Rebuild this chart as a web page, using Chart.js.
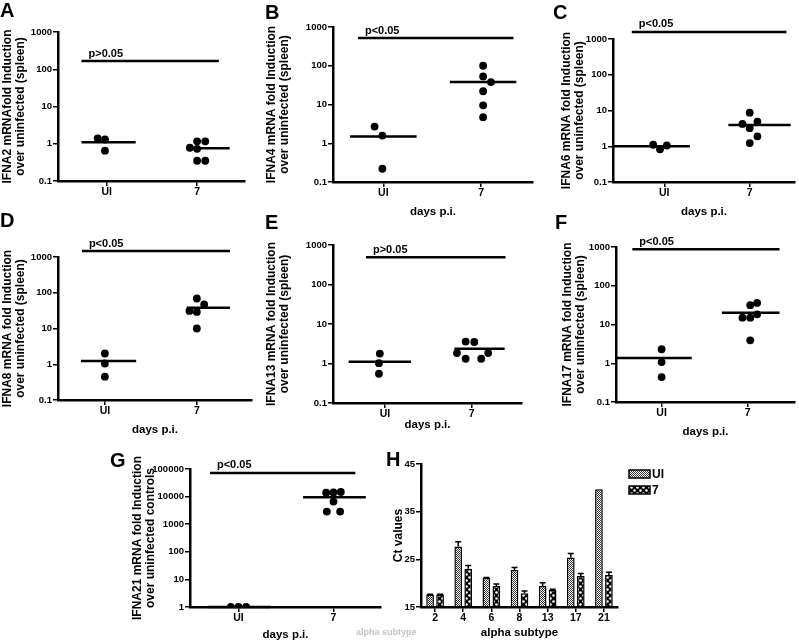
<!DOCTYPE html>
<html>
<head>
<meta charset="utf-8">
<script src="https://cdn.jsdelivr.net/npm/chart.js@4.4.1/dist/chart.umd.min.js"></script>
<style>
  body { margin: 0; background: #fff; }
  #wrap { position: relative; width: 799px; height: 642px; overflow: hidden; background: #fff; }
  canvas { position: absolute; left: 0; top: 0; }
  .lbl { position: absolute; font: bold 20px "Liberation Sans", Arial, sans-serif; line-height: 20px; color: #000; }
  .ghost { position: absolute; font: bold 9px "Liberation Sans", Arial, sans-serif; color: #c4c4c4; }
</style>
</head>
<body>
<div id="wrap">
  <canvas id="pA" width="799" height="642"></canvas>
  <canvas id="pB" width="799" height="642"></canvas>
  <canvas id="pC" width="799" height="642"></canvas>
  <canvas id="pD" width="799" height="642"></canvas>
  <canvas id="pE" width="799" height="642"></canvas>
  <canvas id="pF" width="799" height="642"></canvas>
  <canvas id="pG" width="799" height="642"></canvas>
  <canvas id="pH" width="799" height="642"></canvas>
  <div class="lbl" style="left:0px;top:0px">A</div>
  <div class="lbl" style="left:265px;top:2px">B</div>
  <div class="lbl" style="left:553px;top:2px">C</div>
  <div class="lbl" style="left:0px;top:210px">D</div>
  <div class="lbl" style="left:265px;top:212px">E</div>
  <div class="lbl" style="left:555px;top:212px">F</div>
  <div class="lbl" style="left:110px;top:450px">G</div>
  <div class="lbl" style="left:386px;top:449px">H</div>
  <div class="ghost" style="left:356px;top:627px">alpha subtype</div>
</div>
<script>
const W = 799, H = 642
const narrow = '"Liberation Sans Narrow", "Liberation Sans", Arial, sans-serif'
Chart.defaults.font.family = narrow
Chart.defaults.font.weight = 'bold'
Chart.defaults.color = '#000'

const dotCats = ['UI', '7']
const spleenTicks = [0.1, 1, 10, 100, 1000]
const controlTicks = [1, 10, 100, 1000, 10000, 100000]

// A - IFNA2
const aUI = [1.4, 1.3, 0.65]
const aUIJit = [-0.1, -0.02, -0.02]
const a7 = [1.16, 1.16, 0.78, 0.73, 0.35, 0.35]
const a7Jit = [0, 0.09, -0.08, 0, 0, 0.09]
const aMeans = [1.1, 0.76]

// B - IFNA4
const bUI = [2.7, 1.58, 0.22]
const bUIJit = [-0.09, -0.01, -0.01]
const b7 = [100, 53, 38, 22, 9.5, 4.7]
const b7Jit = [0.02, 0.02, 0.1, 0.02, 0.02, 0.02]
const bMeans = [1.5, 38]

// C - IFNA6
const cUI = [1.1, 0.82, 1.05]
const cUIJit = [-0.13, -0.05, 0.03]
const c7 = [8.7, 4.2, 4.9, 3.2, 1.9, 1.23]
const c7Jit = [0, -0.085, 0.09, 0, 0.09, 0]
const cMeans = [1.0, 3.9]

// D - IFNA8
const dUI = [2.0, 1.05, 0.45]
const dUIJit = [0, 0, 0]
const d7 = [69, 47, 31, 29, 10]
const d7Jit = [0, 0.08, -0.08, 0, 0]
const dMeans = [1.24, 38]

// E - IFNA13
const eUI = [1.78, 1.02, 0.55]
const eUIJit = [-0.06, -0.07, -0.07]
const e7 = [3.6, 3.5, 1.84, 1.84, 1.32, 1.32]
const e7Jit = [-0.07, 0.03, -0.17, 0.19, -0.07, 0.11]
const eMeans = [1.11, 2.35]

// F - IFNA17
const fUI = [2.3, 1.07, 0.44]
const fUIJit = [0, 0, 0]
const f7 = [31.6, 36, 15, 15, 18.3, 3.9]
const f7Jit = [0.03, 0.11, -0.06, 0.03, 0.11, 0.03]
const fMeans = [1.36, 20]

// G - IFNA21
const gUI = [1, 1, 1]
const gUIJit = [-0.08, 0, 0.08]
const g7 = [13900, 14200, 14700, 6600, 2870, 2870]
const g7Jit = [-0.077, 0, 0.077, 0, -0.07, 0.07]
const gMeans = [1, 9500]

// H - Ct values
const hCats = ['2', '4', '6', '8', '13', '17', '21']
const hTicks = [15, 25, 35, 45]
const hUI = [17.6, 27.7, 21.1, 22.75, 19.4, 25.4, 39.7]
const hUISem = [0.1, 1.0, 0.1, 0.55, 0.7, 0.85, 0]
const h7 = [17.6, 23.0, 19.4, 17.9, 18.55, 21.5, 21.7]
const h7Sem = [0.1, 0.7, 0.4, 0.45, 0.15, 0.55, 0.6]

const spleenTitle = 'over uninfected (spleen)'

const panels = [
    {id: 'pA', ui: aUI, uiJit: aUIJit, d7: a7, d7Jit: a7Jit, means: aMeans, ticks: spleenTicks,
     p: 'p>0.05', pLevel: 166, pSpan: [0.72, 2.24], uiSpan: [0.72, 1.32], d7Span: [1.9, 2.36],
     area: [58, 32, 245, 181], xr: [0.46, 2.53], tx: 8, ty: null,
     yTitle: ['IFNA2 mRNAfold Induction', spleenTitle]},
    {id: 'pB', ui: bUI, uiJit: bUIJit, d7: b7, d7Jit: b7Jit, means: bMeans, ticks: spleenTicks,
     p: 'p<0.05', pLevel: 520, pSpan: [0.74, 2.33], uiSpan: [0.66, 1.34], d7Span: [1.68, 2.36],
     area: [333, 27, 533, 182], xr: [0.485, 2.53], tx: 272, ty: 212,
     yTitle: ['IFNA4 mRNA fold Induction', spleenTitle]},
    {id: 'pC', ui: cUI, uiJit: cUIJit, d7: c7, d7Jit: c7Jit, means: cMeans, ticks: spleenTicks,
     p: 'p<0.05', pLevel: 1580, pSpan: [0.62, 2.43], uiSpan: [0.4, 1.3], d7Span: [1.75, 2.48],
     area: [613, 39, 798, 182], xr: [0.4, 2.53], tx: 567, ty: 212,
     yTitle: ['IFNA6 mRNA fold Induction', spleenTitle]},
    {id: 'pD', ui: dUI, uiJit: dUIJit, d7: d7, d7Jit: d7Jit, means: dMeans, ticks: spleenTicks,
     p: 'p<0.05', pLevel: 1470, pSpan: [0.75, 2.36], uiSpan: [0.74, 1.34], d7Span: [1.89, 2.36],
     area: [58, 257, 252, 400], xr: [0.49, 2.6], tx: 8, ty: 430,
     yTitle: ['IFNA8 mRNA fold Induction', spleenTitle]},
    {id: 'pE', ui: eUI, uiJit: eUIJit, d7: e7, d7Jit: e7Jit, means: eMeans, ticks: spleenTicks,
     p: 'p>0.05', pLevel: 490, pSpan: [0.78, 2.39], uiSpan: [0.58, 1.3], d7Span: [1.8, 2.38],
     area: [333, 245, 522, 403], xr: [0.4, 2.58], tx: 272, ty: 425,
     yTitle: ['IFNA13 mRNA fold Induction', spleenTitle]},
    {id: 'pF', ui: fUI, uiJit: fUIJit, d7: f7, d7Jit: f7Jit, means: fMeans, ticks: spleenTicks,
     p: 'p<0.05', pLevel: 870, pSpan: [0.66, 2.37], uiSpan: [0.48, 1.35], d7Span: [1.7, 2.37],
     area: [616, 247, 798, 402], xr: [0.47, 2.55], tx: 568, ty: 432,
     yTitle: ['IFNA17 mRNA fold Induction', spleenTitle]},
    {id: 'pG', ui: gUI, uiJit: gUIJit, d7: g7, d7Jit: g7Jit, means: gMeans, ticks: controlTicks,
     p: 'p<0.05', pLevel: 72000, pSpan: [0.7, 2.23], uiSpan: [0.68, 1.34], d7Span: [1.68, 2.34],
     area: [190, 469, 381, 607], xr: [0.49, 2.5], tx: 138, ty: 635,
     yTitle: ['IFNA21 mRNA fold Induction', 'over uninfected controls']}
]

// rotated, multi-line y title (no squeezing to the axis height)
const yTitle = {
    id: 'ytitle',
    afterDraw(chart, args, o) {
        const ctx = chart.ctx
        const a = chart.chartArea
        ctx.save()
        ctx.translate(o.x, (a.top + a.bottom) / 2)
        ctx.rotate(-Math.PI / 2)
        ctx.font = 'bold 12px "Liberation Sans", Arial, sans-serif'
        ctx.fillStyle = '#000'
        ctx.textAlign = 'center'
        ctx.textBaseline = 'middle'
        o.lines.forEach((line, i) => ctx.fillText(line, 0, i * 12.5))
        ctx.restore()
    }
}

const pText = {
    id: 'ptext',
    afterDatasetsDraw(chart, args, o) {
        const {ctx, scales: {x, y}} = chart
        ctx.save()
        ctx.font = 'bold 11px ' + narrow
        ctx.fillStyle = '#000'
        ctx.textBaseline = 'bottom'
        ctx.fillText(o.text, x.getPixelForValue(o.x) + 7, y.getPixelForValue(o.y) - 2)
        ctx.restore()
    }
}

const axisGrid = {drawOnChartArea: false, tickLength: 5, color: '#000', lineWidth: 1.5}
const axisBorder = {color: '#000', width: 2.5}
const tickFont = {size: 9.5, weight: 'bold'}
const xTitleFont = {size: 11.5, weight: 'bold'}

const dotPanel = function (c) {
    const pts = (vals, jit, cx) => vals.map((v, i) => ({x: cx + jit[i], y: v}))
    const seg = (span, y) => [{x: span[0], y: y}, {x: span[1], y: y}]
    const [l, t, r, b] = c.area
    const xh = c.ty ? c.ty + 7 - b : 20
    const dot = {showLine: false, pointRadius: 3.9, backgroundColor: '#000', borderColor: '#000', borderWidth: 0}
    const bar = {showLine: true, borderColor: '#000', borderWidth: 2.5, pointRadius: 0, clip: false}
    new Chart(document.getElementById(c.id), {
        type: 'scatter',
        data: {
            datasets: [
                {...dot, data: pts(c.ui, c.uiJit, 1)},
                {...dot, data: pts(c.d7, c.d7Jit, 2)},
                {...bar, data: seg(c.uiSpan, c.means[0])},
                {...bar, data: seg(c.d7Span, c.means[1])},
                {...bar, data: seg(c.pSpan, c.pLevel)}
            ]
        },
        options: {
            responsive: false,
            animation: false,
            events: [],
            layout: {padding: {left: 0, top: t, right: W - r, bottom: H - b - xh}},
            plugins: {
                legend: {display: false},
                tooltip: {enabled: false},
                ptext: {text: c.p, x: c.pSpan[0], y: c.pLevel},
                ytitle: {lines: c.yTitle, x: c.tx}
            },
            scales: {
                x: {
                    type: 'linear', min: c.xr[0], max: c.xr[1],
                    afterBuildTicks: s => { s.ticks = dotCats.map((_, i) => ({value: i + 1})) },
                    afterFit: s => { s.height = xh },
                    ticks: {callback: v => dotCats[Math.round(v) - 1], font: {size: 10.5, weight: 'bold'}, padding: 0, maxRotation: 0, autoSkip: false},
                    grid: axisGrid,
                    border: axisBorder,
                    title: {display: !!c.ty, text: 'days p.i.', font: xTitleFont, padding: 0}
                },
                y: {
                    type: 'logarithmic', min: c.ticks[0], max: c.ticks[c.ticks.length - 1],
                    afterBuildTicks: s => { s.ticks = c.ticks.map(v => ({value: v})) },
                    afterFit: s => { s.width = l },
                    ticks: {callback: v => String(v), font: tickFont, padding: 1},
                    grid: axisGrid,
                    border: axisBorder
                }
            }
        },
        plugins: [pText, yTitle]
    })
}

panels.forEach(dotPanel)

// bar fills
const makePattern = function (kind) {
    const c = document.createElement('canvas')
    const g = c.getContext('2d')
    if (kind === 'fine') {
        c.width = 2; c.height = 2
        g.fillStyle = '#fff'; g.fillRect(0, 0, 2, 2)
        g.fillStyle = '#333'; g.fillRect(0, 0, 1, 1); g.fillRect(1, 1, 1, 1)
    } else {
        c.width = 6; c.height = 6
        g.fillStyle = '#000'; g.fillRect(0, 0, 6, 6)
        g.fillStyle = '#fff'
        g.beginPath(); g.arc(1.5, 1.5, 1.3, 0, Math.PI * 2); g.fill()
        g.beginPath(); g.arc(4.5, 4.5, 1.3, 0, Math.PI * 2); g.fill()
    }
    return g.createPattern(c, 'repeat')
}

const errBars = {
    id: 'errbars',
    afterDatasetsDraw(chart) {
        const {ctx, scales: {y}} = chart
        ctx.save()
        ctx.strokeStyle = '#000'
        ctx.lineWidth = 1.5
        chart.data.datasets.forEach((ds, i) => {
            chart.getDatasetMeta(i).data.forEach((el, j) => {
                const e = ds.sem[j]
                if (!e) return
                const top = y.getPixelForValue(ds.data[j] + e)
                ctx.beginPath()
                ctx.moveTo(el.x, el.y)
                ctx.lineTo(el.x, top)
                ctx.moveTo(el.x - 3, top)
                ctx.lineTo(el.x + 3, top)
                ctx.stroke()
            })
        })
        ctx.restore()
    }
}

const hLegend = {
    id: 'hlegend',
    afterDraw(chart) {
        const {ctx, chartArea: a} = chart
        ctx.save()
        chart.data.datasets.forEach((ds, i) => {
            const x = a.right + 11, y = a.top + 6 + i * 16
            ctx.fillStyle = ds.backgroundColor
            ctx.fillRect(x, y, 21, 8)
            ctx.strokeStyle = '#000'
            ctx.lineWidth = 1.5
            ctx.strokeRect(x, y, 21, 8)
            ctx.fillStyle = '#000'
            ctx.font = 'bold 12px ' + narrow
            ctx.textBaseline = 'middle'
            ctx.fillText(ds.label, x + 23, y + 4.5)
        })
        ctx.restore()
    }
}

const hArea = [421, 464, 618, 607]
const hXh = 633 + 7 - hArea[3]
new Chart(document.getElementById('pH'), {
    type: 'bar',
    data: {
        labels: hCats,
        datasets: [
            {label: 'UI', data: hUI, sem: hUISem, backgroundColor: makePattern('fine')},
            {label: '7', data: h7, sem: h7Sem, backgroundColor: makePattern('dots')}
        ]
    },
    options: {
        responsive: false,
        animation: false,
        events: [],
        datasets: {bar: {base: 15, borderColor: '#000', borderWidth: 1.5, categoryPercentage: 0.71, barPercentage: 0.77}},
        layout: {padding: {left: 0, top: hArea[1], right: W - hArea[2], bottom: H - hArea[3] - hXh}},
        plugins: {
            legend: {display: false},
            tooltip: {enabled: false},
            ytitle: {lines: ['Ct values'], x: 399}
        },
        scales: {
            x: {
                afterFit: s => { s.height = hXh },
                ticks: {font: {size: 10.5, weight: 'bold'}, padding: 0, maxRotation: 0, autoSkip: false},
                grid: {...axisGrid, offset: false},
                border: axisBorder,
                title: {display: true, text: 'alpha subtype', font: xTitleFont, padding: 0}
            },
            y: {
                min: hTicks[0], max: hTicks[hTicks.length - 1],
                afterBuildTicks: s => { s.ticks = hTicks.map(v => ({value: v})) },
                afterFit: s => { s.width = hArea[0] },
                ticks: {font: tickFont, padding: 1},
                grid: axisGrid,
                border: axisBorder
            }
        }
    },
    plugins: [errBars, hLegend, yTitle]
})
</script>
</body>
</html>
